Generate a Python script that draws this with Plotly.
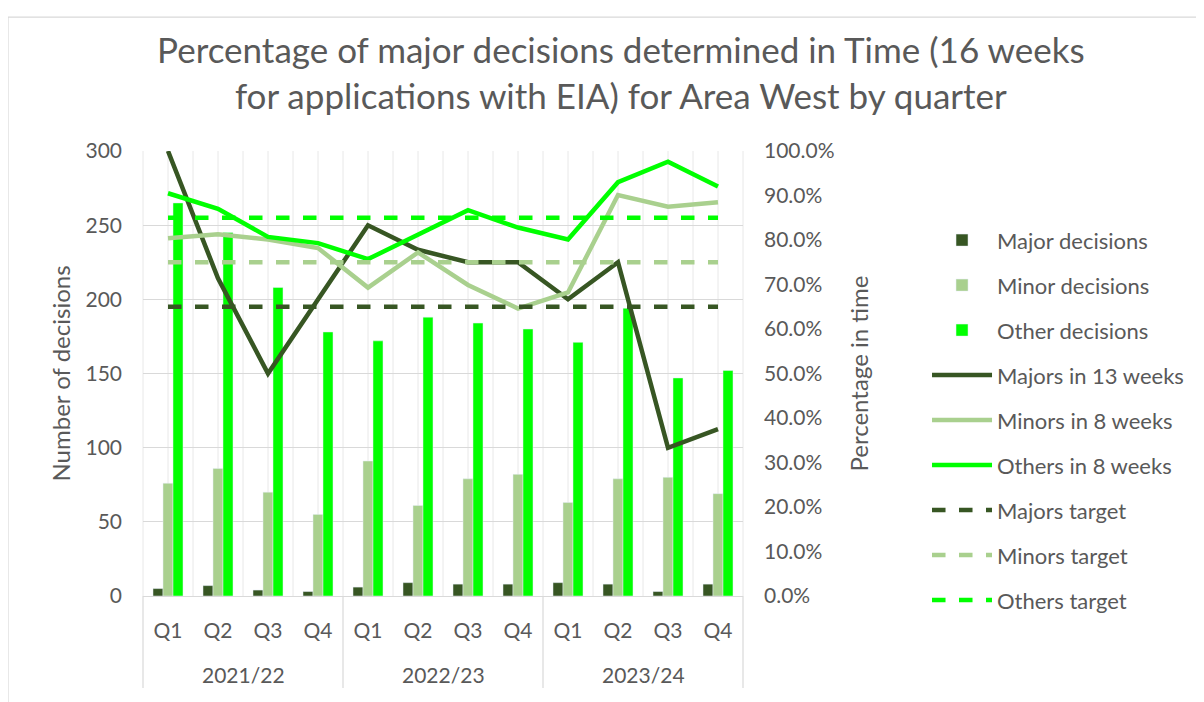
import plotly.graph_objects as go

year_labels = ["2021/22", "2022/23", "2023/24"]
quarter_labels = ["Q1", "Q2", "Q3", "Q4"]
# distinct blank group keys keep the three quarter groups apart; the year text is drawn below
group_keys = [" ", "  ", "   "]
groups = [g for g in group_keys for _ in quarter_labels]
quarters = quarter_labels * 3

major_decisions = [5, 7, 4, 3, 6, 9, 8, 8, 9, 8, 3, 8]
minor_decisions = [76, 86, 70, 55, 91, 61, 79, 82, 63, 79, 80, 69]
other_decisions = [265, 245, 208, 178, 172, 188, 184, 180, 171, 194, 147, 152]

majors_13_weeks = [1.0, 0.714, 0.50, 0.667, 0.833, 0.778, 0.75, 0.75, 0.667, 0.75, 0.333, 0.375]
minors_8_weeks = [0.804, 0.813, 0.801, 0.782, 0.693, 0.772, 0.699, 0.646, 0.682, 0.901, 0.875, 0.885]
others_8_weeks = [0.905, 0.870, 0.807, 0.793, 0.757, 0.811, 0.867, 0.828, 0.801, 0.930, 0.976, 0.920]

majors_target = [0.65] * 12
minors_target = [0.75] * 12
others_target = [0.85] * 12

DARK = "#375623"
LIGHT = "#a9d08e"
BRIGHT = "#00ff00"
TXT = "#595959"
FONT = "Lato"

x = [groups, quarters]

fig = go.Figure()
fig.add_trace(go.Bar(x=x, y=major_decisions, name="Major decisions", marker_color=DARK, legendgroup="a"))
fig.add_trace(go.Bar(x=x, y=minor_decisions, name="Minor decisions", marker_color=LIGHT, legendgroup="b"))
fig.add_trace(go.Bar(x=x, y=other_decisions, name="Other decisions", marker_color=BRIGHT, legendgroup="c"))

line_specs = [
    ("Majors in 13 weeks", majors_13_weeks, DARK, "solid", "d"),
    ("Minors in 8 weeks", minors_8_weeks, LIGHT, "solid", "e"),
    ("Others in 8 weeks", others_8_weeks, BRIGHT, "solid", "f"),
    ("Majors target", majors_target, DARK, "dash", "g"),
    ("Minors target", minors_target, LIGHT, "dash", "h"),
    ("Others target", others_target, BRIGHT, "dash", "i"),
]
for name, vals, col, dash, grp in line_specs:
    fig.add_trace(go.Scatter(x=x, y=vals, name=name, mode="lines", yaxis="y2",
                             line=dict(color=col, width=4.5, dash=dash), legendgroup=grp))

shapes = []
# light vertical gridlines every half category
for k in range(25):
    shapes.append(dict(type="line", xref="x domain", yref="y domain", x0=k / 24, x1=k / 24,
                       y0=0, y1=1, line=dict(color="#e8e8e8", width=1), layer="below"))
# year group dividers below the axis
for k in range(4):
    shapes.append(dict(type="line", xref="x domain", yref="paper", x0=k / 3, x1=k / 3,
                       y0=0, y1=-0.207, line=dict(color="#d9d9d9", width=1.2)))
# outer chart border (left and top visible)
shapes.append(dict(type="rect", xref="paper", yref="paper", x0=-0.225, x1=1.80, y0=-0.30, y1=1.301,
                   line=dict(color="#d9d9d9", width=1.2), layer="below"))

annotations = []
for i, yl in enumerate(year_labels):
    annotations.append(dict(text=yl, xref="x domain", yref="paper", x=(2 * i + 1) / 6, y=-0.1775,
                            xanchor="center", yanchor="middle", showarrow=False,
                            font=dict(family=FONT, size=21, color=TXT)))

fig.update_layout(
    width=1204, height=702,
    paper_bgcolor="white", plot_bgcolor="white",
    margin=dict(l=135, r=469, t=143, b=114, autoexpand=False),
    barmode="group", bargap=0.4, bargroupgap=0,
    font=dict(family=FONT, color=TXT, size=21),
    title=dict(text="Percentage of major decisions determined in Time (16 weeks<br>for applications with EIA) for Area West by quarter",
               x=0.509, xanchor="center", y=0.921, yanchor="top",
               font=dict(family=FONT, size=35, color=TXT)),
    shapes=shapes,
    annotations=annotations,
    xaxis=dict(type="multicategory", showgrid=False, showline=True, linecolor="#d9d9d9",
               showdividers=False, automargin=False,
               tickfont=dict(size=21, color=TXT), ticks="", ticklabelstandoff=16),
    yaxis=dict(range=[0, 300], dtick=50, showgrid=True, gridcolor="#d9d9d9", gridwidth=1,
               zeroline=False, showline=False, tickfont=dict(size=21, color=TXT), automargin=False,
               ticklabelstandoff=20,
               title=dict(text="Number of decisions", font=dict(size=24, color=TXT), standoff=8)),
    yaxis2=dict(range=[0, 1], dtick=0.1, tickformat=".1%", overlaying="y", side="right",
                showgrid=False, zeroline=False, showline=False, tickfont=dict(size=21, color=TXT),
                automargin=False, ticklabelstandoff=20,
                title=dict(text="Percentage in time", font=dict(size=24, color=TXT), standoff=17)),
    legend=dict(x=1.3067, y=0.8465, xanchor="left", yanchor="top", font=dict(size=22, color=TXT),
                tracegroupgap=13.4, traceorder="grouped", itemwidth=60, bgcolor="rgba(0,0,0,0)"),
    showlegend=True,
)

fig.write_html("out.html")
